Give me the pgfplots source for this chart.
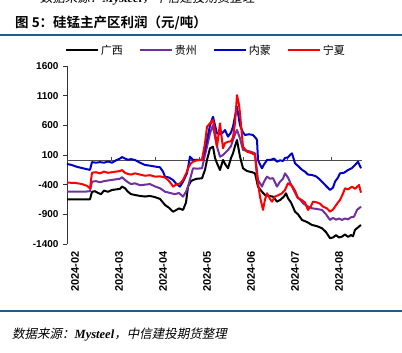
\documentclass[border=0pt]{standalone}
\usepackage{pgfplots}
\pgfplotsset{compat=1.18}
\usepackage{pgfplotstable}
\usepackage{fontspec}
\setmainfont{Liberation Sans}
\newfontfamily\cjk{Noto Sans CJK SC}
\newfontfamily\cjkb{Noto Sans CJK SC Bold}
\newfontfamily\cjkit{Noto Sans CJK SC}[FakeSlant=0.2]
\newfontfamily\tnr{Liberation Serif}
\definecolor{rule}{RGB}{31,92,140}
\definecolor{cPurple}{RGB}{112,48,160}
\definecolor{cBlue}{RGB}{0,0,204}
\definecolor{cRed}{RGB}{255,0,0}

% x: position index (44 units per month, 67 = 2024-02)
\pgfplotstableread{
t v
67 -646
70 -646
80 -646
90 -646
92 -520
95 -510
98 -540
101 -560
104 -500
108 -520
112 -490
116 -480
120 -470
122 -433
125 -460
128 -520
131 -560
135 -574
140 -590
145 -600
150 -590
155 -610
160 -640
165 -742
169 -790
173 -855
176 -830
179 -800
183 -826
186 -700
188 -433
191 -340
193 -321
197 -300
202 -293
205 -150
207 16
210 212
213 240
215 50
217 -40
220 -153
223 16
225 -50
228 -124
231 50
233 128
235 250
237 353
240 72
243 -124
247 -170
252 -190
255 -209
258 -433
262 -520
265 -574
269 -590
273 -602
277 -686
280 -660
284 -600
286 -545
288 -629
291 -700
295 -855
298 -900
302 -995
307 -1030
312 -1079
317 -1100
322 -1134
326 -1200
330 -1302
333 -1290
336 -1250
339 -1290
342 -1275
345 -1240
348 -1280
351 -1250
353 -1270
355 -1163
358 -1120
361 -1079
}\guangxi

\pgfplotstableread{
t v
67 -518
75 -518
85 -518
90 -510
92 -350
96 -340
100 -360
104 -340
108 -330
112 -320
116 -310
120 -300
122 -275
125 -320
128 -360
131 -390
135 -377
140 -410
145 -400
150 -390
155 -430
160 -460
165 -518
170 -540
175 -560
179 -540
183 -602
186 -520
188 -433
191 -250
193 -124
197 -130
202 -124
205 100
207 240
210 465
213 605
215 400
217 240
220 72
223 100
228 184
231 250
233 353
235 450
237 521
240 381
243 184
247 170
250 160
255 128
258 -321
262 -433
264 -350
267 -265
270 -300
273 -290
277 -433
280 -350
283 -300
285 -209
288 -280
292 -433
297 -602
300 -650
303 -713
307 -760
312 -798
317 -810
322 -826
326 -900
330 -995
333 -960
336 -990
339 -970
342 -995
345 -970
348 -985
351 -950
354 -940
357 -826
361 -770
}\guizhou

\pgfplotstableread{
t v
67 -50
72 -70
77 -100
82 -120
87 -140
90 -150
92 -20
96 -30
100 -20
104 -30
108 -10
112 -30
116 10
120 40
122 65
125 40
128 20
131 30
135 16
140 -30
145 -68
150 -80
155 -95
160 -107
163 -180
165 -265
169 -280
173 -321
176 -380
180 -433
183 -350
187 -209
190 72
193 16
197 20
202 16
205 200
207 353
210 600
213 745
215 600
217 465
220 450
223 480
225 521
228 409
231 480
233 577
235 750
237 913
240 600
243 480
245 437
249 450
253 437
256 380
257 353
258 16
260 -60
262 -124
264 -60
267 16
271 20
274 40
277 -13
280 10
283 0
285 50
288 60
290 100
292 128
295 -40
299 -100
302 -150
305 -181
308 -230
312 -237
316 -260
319 -300
322 -350
326 -420
330 -489
333 -450
335 -350
338 -280
340 -209
344 -200
348 -153
352 -120
355 -68
358 -13
361 -124
}\neimeng

\pgfplotstableread{
t v
67 -366
75 -370
82 -390
87 -420
90 -461
92 -198
96 -190
100 -210
104 -180
108 -200
112 -190
116 -180
120 -170
122 -153
125 -200
128 -220
131 -230
135 -209
140 -230
145 -250
150 -240
155 -265
160 -260
165 -280
168 -321
171 -380
173 -433
176 -400
180 -380
183 -321
186 -220
188 -124
191 -40
193 -13
197 10
202 16
205 300
207 577
210 634
213 690
215 500
217 240
220 634
223 212
225 300
228 324
231 330
233 400
235 634
237 1110
239 950
240 802
243 240
247 156
252 128
255 100
257 -265
260 -602
263 -826
265 -650
267 -545
270 -640
272 -686
275 -600
278 -580
282 -545
285 -489
288 -377
292 -420
295 -500
298 -629
301 -650
305 -700
308 -826
311 -760
313 -686
317 -700
320 -720
323 -770
327 -800
330 -855
333 -820
335 -770
338 -700
340 -658
343 -550
345 -461
348 -480
352 -433
355 -470
359 -405
361 -535
}\ningxia

\begin{document}
\begin{tikzpicture}[x=1pt,y=1pt]
\useasboundingbox (0,0) rectangle (402,353);
% cut-off source line of the previous figure (cut in the reference too)
\node[anchor=base west, inner sep=0pt] at (40,350) {\fontsize{12.5}{14}\selectfont\cjkit 数据来源：{\tnr\bfseries\itshape Mysteel}，中信建投期货整理};
% title
\node[anchor=base west, inner sep=0pt] at (15,325) {\fontsize{13.5}{16}\selectfont\cjkb 图 5：硅锰主产区利润（元/吨）};
\draw[rule, line width=2pt] (0,318) -- (402,318);
\draw[rule, line width=2pt] (0,42) -- (402,42);
\node[anchor=base west, inner sep=0pt] at (12,14) {\fontsize{12.5}{14}\selectfont\cjkit 数据来源：{\tnr\bfseries\itshape Mysteel}，中信建投期货整理};

\begin{axis}[
  at={(67pt,109pt)}, anchor=south west,
  scale only axis, width=295pt, height=178pt,
  xmin=67, xmax=362, ymin=-1400, ymax=1600,
  axis lines*=left,
  x axis line style={draw=none},
  y axis line style={black!80, line width=0.8pt},
  xtick={67,111,155,199,243,287,331},
  xticklabels={2024-02,2024-03,2024-04,2024-05,2024-06,2024-07,2024-08},
  xtick style={draw=none},
  xticklabel style={rotate=90, anchor=east, font=\fontsize{11}{13}\selectfont\bfseries, yshift=-8pt},
  ytick={-1400,-900,-400,100,600,1100,1600},
  yticklabels={-1400,-900,-400,100,600,1100,1600},
  yticklabel style={font=\fontsize{10}{12}\selectfont\bfseries, xshift=-1pt},
  ytick style={black!80, line width=0.8pt},
  tick align=outside,
  major tick length=4pt,
  clip=false,
  legend style={at={(0.471,1)}, anchor=south, yshift=6pt, draw=none, fill=none,
    legend columns=4, font=\fontsize{11}{13}\selectfont\cjk,
    /tikz/every even column/.append style={column sep=14pt}},
  legend image code/.code={\draw[line width=2pt] (0pt,0pt) -- (32pt,0pt);},
  every axis plot/.append style={line width=2pt, line join=round},
]
\draw[black!70, line width=1pt] (axis cs:67,0) -- (axis cs:362,0);
\pgfplotsinvokeforeach{111,155,199,243,287,331}{\draw[black!70, line width=0.8pt] (axis cs:#1,0) -- ++(0pt,4pt);}
\addplot[black] table[x=t,y=v] {\guangxi};
\addlegendentry{广西}
\addplot[cPurple] table[x=t,y=v] {\guizhou};
\addlegendentry{贵州}
\addplot[cBlue] table[x=t,y=v] {\neimeng};
\addlegendentry{内蒙}
\addplot[cRed] table[x=t,y=v] {\ningxia};
\addlegendentry{宁夏}
\end{axis}
\end{tikzpicture}
\end{document}
